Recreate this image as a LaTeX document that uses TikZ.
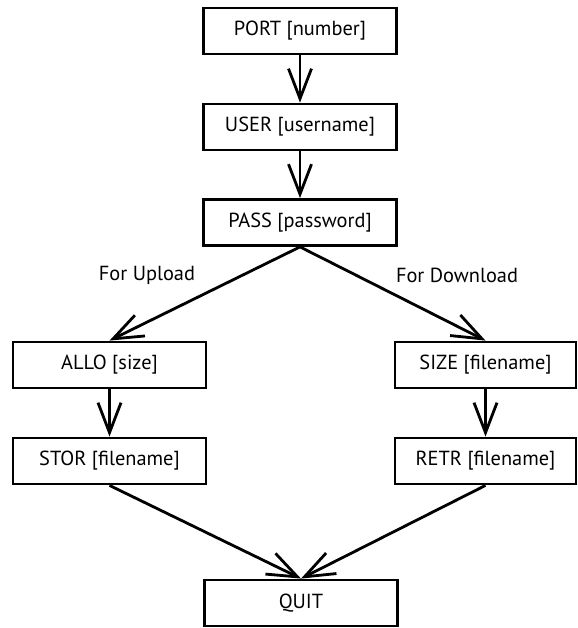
\documentclass[tikz,border=0pt]{standalone}
\usepackage{fontspec}
\setmainfont{PT Sans}
\usetikzlibrary{arrows.meta}

\begin{document}
\begin{tikzpicture}[line cap=butt, line join=miter, >={Straight Barb[length=6mm,width=4.6mm]},
  cmd/.style={draw, line width=1.6pt, minimum width=3.86cm, minimum height=0.92cm, inner sep=0pt, font=\fontsize{11.6}{13}\selectfont},
  flow/.style={->, line width=1.6pt},
  note/.style={font=\fontsize{11.6}{13}\selectfont}]
  \useasboundingbox (0,0) rectangle (11.56,12.56);

  % Login sequence down the middle
  \node[cmd] (port) at (6.0,11.94) {PORT [number]};
  \node[cmd] (user) at (6.0,10.02) {USER [username]};
  \node[cmd] (pass) at (6.0,8.11) {PASS [password]};
  \draw[flow] (port) -- (user);
  \draw[flow] (user) -- (pass);

  % Upload branch on the left, download branch on the right
  \node[cmd] (allo) at (2.19,5.26) {ALLO [size]};
  \node[cmd] (stor) at (2.19,3.34) {STOR [filename]};
  \node[cmd, minimum width=3.62cm] (size) at (9.71,5.26) {SIZE [filename]};
  \node[cmd, minimum width=3.62cm] (retr) at (9.71,3.34) {RETR [filename]};
  \draw[flow] (pass.south) -- (allo.north);
  \draw[flow] (pass.south) -- (size.north);
  \node[note] (up) at (2.94,7.06) {For Upload};
  \node[note] (down) at (9.14,7.06) {For Download};
  \draw[flow] (allo) -- (stor);
  \draw[flow] (size) -- (retr);

  % Both branches end with QUIT
  \node[cmd] (quit) at (6.02,0.5) {QUIT};
  \draw[flow] (stor.south) -- (quit.north);
  \draw[flow] (retr.south) -- (quit.north);
\end{tikzpicture}
\end{document}
